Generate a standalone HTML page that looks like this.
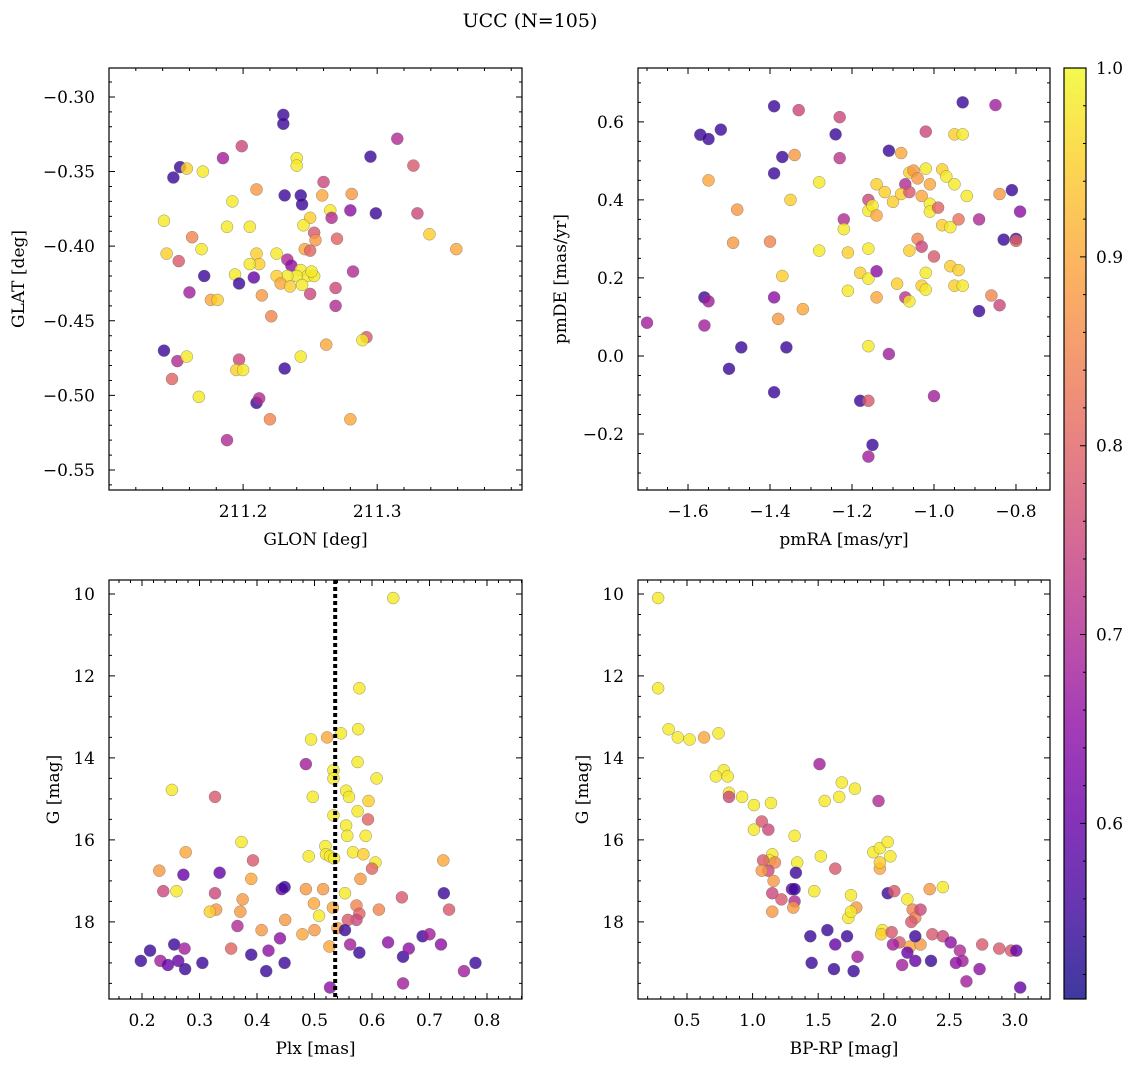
<!DOCTYPE html>
<html><head><meta charset="utf-8">
<style>
html,body{margin:0;padding:0;background:#fff;}
svg{display:block;font-family:"DejaVu Serif","Liberation Serif",serif;}
</style></head>
<body>
<svg id="fig" width="1136" height="1067" viewBox="0 0 1136 1067" xmlns="http://www.w3.org/2000/svg">
<defs>
<linearGradient id="cbg" x1="0" y1="1" x2="0" y2="0">
<stop offset="0" stop-color="#0d0887"/><stop offset="0.1" stop-color="#41049d"/><stop offset="0.2" stop-color="#6a00a8"/><stop offset="0.3" stop-color="#8f0da4"/><stop offset="0.4" stop-color="#b12a90"/><stop offset="0.5" stop-color="#cc4778"/><stop offset="0.6" stop-color="#e16462"/><stop offset="0.7" stop-color="#f2844b"/><stop offset="0.8" stop-color="#fca636"/><stop offset="0.9" stop-color="#fcce25"/><stop offset="1" stop-color="#f0f921"/>
</linearGradient>
</defs>
<text x="530" y="27" font-size="19" text-anchor="middle">UCC (N=105)</text>
</svg>
<script>
// ---- data (per panel) ----
const glon=[211.230,211.230,211.199,211.185,211.153,211.158,211.170,211.148,211.240,211.240,211.295,211.315,211.327,211.260,211.210,211.231,211.243,211.244,211.259,211.281,211.192,211.141,211.250,211.265,211.266,211.280,211.299,211.330,211.162,211.188,211.205,211.245,211.253,211.254,211.270,211.339,211.359,211.143,211.152,211.169,211.210,211.212,211.225,211.205,211.246,211.250,211.233,211.236,211.243,211.248,211.240,211.233,211.225,211.228,211.235,211.244,211.253,211.251,211.282,211.171,211.194,211.208,211.197,211.160,211.176,211.181,211.214,211.250,211.269,211.269,211.221,211.292,211.289,211.262,211.243,211.231,211.141,211.151,211.158,211.147,211.197,211.195,211.200,211.167,211.210,211.212,211.220,211.280,211.188];
const glat=[-0.312,-0.318,-0.333,-0.341,-0.347,-0.348,-0.350,-0.354,-0.341,-0.346,-0.340,-0.328,-0.346,-0.357,-0.362,-0.366,-0.366,-0.372,-0.366,-0.365,-0.370,-0.383,-0.381,-0.376,-0.381,-0.376,-0.378,-0.378,-0.394,-0.387,-0.387,-0.386,-0.391,-0.396,-0.395,-0.392,-0.402,-0.405,-0.410,-0.402,-0.405,-0.412,-0.405,-0.412,-0.402,-0.403,-0.409,-0.413,-0.416,-0.420,-0.420,-0.420,-0.420,-0.425,-0.427,-0.426,-0.420,-0.417,-0.417,-0.420,-0.419,-0.421,-0.425,-0.431,-0.436,-0.436,-0.433,-0.432,-0.428,-0.440,-0.447,-0.461,-0.463,-0.466,-0.474,-0.482,-0.470,-0.477,-0.474,-0.489,-0.476,-0.483,-0.483,-0.501,-0.505,-0.502,-0.516,-0.516,-0.530];
const prob1=[0.55,0.55,0.75,0.68,0.55,0.95,0.98,0.55,0.98,0.98,0.55,0.70,0.78,0.75,0.88,0.55,0.55,0.55,0.90,0.88,0.98,0.98,0.95,0.98,0.70,0.65,0.55,0.75,0.85,0.98,0.98,0.98,0.78,0.88,0.80,0.95,0.90,0.95,0.78,0.98,0.95,0.95,0.98,0.98,0.90,0.80,0.70,0.65,0.98,0.98,0.98,0.98,0.95,0.90,0.95,0.98,0.98,0.98,0.70,0.55,0.98,0.60,0.55,0.68,0.90,0.95,0.88,0.75,0.75,0.70,0.85,0.78,0.98,0.90,0.98,0.55,0.55,0.70,0.98,0.80,0.75,0.95,0.98,0.98,0.55,0.70,0.85,0.90,0.70];

const pmra=[-1.57,-1.55,-1.52,-1.39,-1.33,-1.23,-1.24,-1.34,-1.37,-1.23,-1.11,-1.08,-1.06,-1.05,-1.04,-1.02,-1.01,-0.98,-0.97,-0.95,-1.07,-0.93,-0.85,-1.02,-0.95,-0.93,-1.55,-1.39,-1.28,-1.48,-1.35,-1.22,-1.16,-1.16,-1.15,-1.14,-1.12,-1.10,-1.08,-1.06,-1.03,-1.01,-1.01,-0.99,-0.98,-0.96,-0.94,-0.92,-0.89,-0.84,-0.81,-0.79,-0.80,-0.80,-0.83,-1.22,-1.14,-1.04,-1.03,-1.00,-1.06,-1.21,-1.28,-1.16,-1.49,-1.40,-1.37,-1.18,-1.16,-1.14,-1.02,-1.21,-1.14,-1.07,-1.06,-1.03,-1.02,-1.09,-0.96,-0.94,-0.95,-0.93,-0.89,-0.86,-0.84,-1.56,-1.55,-1.56,-1.39,-1.38,-1.36,-1.32,-1.47,-1.70,-1.16,-1.11,-1.50,-1.39,-1.18,-1.16,-1.15,-1.16,-1.00];
const pmde=[0.567,0.556,0.580,0.640,0.630,0.612,0.568,0.515,0.510,0.507,0.526,0.520,0.470,0.475,0.455,0.480,0.440,0.478,0.460,0.440,0.440,0.650,0.643,0.575,0.568,0.568,0.450,0.468,0.445,0.375,0.400,0.350,0.400,0.372,0.385,0.440,0.420,0.395,0.415,0.420,0.410,0.390,0.370,0.380,0.335,0.330,0.350,0.410,0.350,0.415,0.425,0.370,0.300,0.295,0.298,0.325,0.360,0.300,0.280,0.255,0.270,0.265,0.270,0.275,0.290,0.293,0.205,0.213,0.198,0.217,0.213,0.167,0.150,0.150,0.140,0.180,0.170,0.185,0.230,0.220,0.180,0.180,0.115,0.155,0.130,0.150,0.140,0.078,0.150,0.095,0.022,0.120,0.022,0.085,0.025,0.005,-0.033,-0.093,-0.115,-0.115,-0.228,-0.258,-0.103];
const prob2=[0.55,0.55,0.55,0.55,0.75,0.75,0.55,0.88,0.55,0.72,0.55,0.90,0.95,0.88,0.88,0.98,0.90,0.95,0.98,0.98,0.70,0.55,0.68,0.75,0.95,0.98,0.90,0.55,0.98,0.88,0.95,0.70,0.75,0.98,0.98,0.95,0.95,0.95,0.95,0.78,0.90,0.98,0.98,0.80,0.95,0.98,0.82,0.98,0.70,0.88,0.55,0.65,0.55,0.80,0.55,0.98,0.90,0.85,0.75,0.78,0.95,0.95,0.98,0.98,0.88,0.85,0.95,0.95,0.98,0.65,0.98,0.98,0.90,0.72,0.98,0.95,0.98,0.95,0.95,0.95,0.95,0.98,0.55,0.85,0.75,0.55,0.68,0.68,0.65,0.88,0.55,0.90,0.55,0.68,0.98,0.68,0.55,0.55,0.55,0.78,0.55,0.68,0.68];

const plx=[0.637,0.578,0.576,0.546,0.522,0.494,0.575,0.533,0.533,0.608,0.485,0.252,0.327,0.497,0.555,0.560,0.594,0.575,0.533,0.593,0.555,0.557,0.589,0.373,0.519,0.276,0.490,0.520,0.527,0.567,0.585,0.606,0.600,0.534,0.393,0.230,0.335,0.272,0.724,0.652,0.580,0.390,0.237,0.260,0.327,0.375,0.485,0.515,0.443,0.448,0.499,0.553,0.532,0.573,0.578,0.573,0.558,0.612,0.725,0.734,0.329,0.318,0.371,0.449,0.508,0.540,0.500,0.479,0.440,0.408,0.366,0.355,0.420,0.390,0.256,0.214,0.198,0.232,0.245,0.263,0.275,0.274,0.305,0.416,0.448,0.526,0.553,0.562,0.578,0.527,0.628,0.654,0.664,0.688,0.700,0.720,0.760,0.780,0.654];
const gmag3=[10.1,12.3,13.3,13.4,13.5,13.55,14.1,14.3,14.5,14.5,14.15,14.78,14.95,14.95,14.8,14.95,15.05,15.3,15.4,15.5,15.65,15.9,15.9,16.05,16.15,16.3,16.4,16.35,16.4,16.3,16.35,16.55,16.7,16.45,16.5,16.75,16.8,16.85,16.5,17.4,16.95,16.95,17.25,17.25,17.3,17.45,17.2,17.2,17.2,17.15,17.55,17.3,17.65,17.6,17.8,17.95,17.95,17.7,17.3,17.7,17.7,17.75,17.75,17.95,17.85,18.15,18.2,18.3,18.4,18.2,18.1,18.65,18.7,18.8,18.55,18.7,18.95,18.95,19.05,18.95,19.15,18.65,19.0,19.2,19.0,18.6,18.2,18.55,18.75,19.6,18.5,18.85,18.65,18.35,18.3,18.55,19.2,19.0,19.5];
const prob3=[0.98,0.98,0.98,0.98,0.90,0.98,0.98,0.98,0.98,0.98,0.68,0.98,0.78,0.98,0.98,0.98,0.95,0.98,0.98,0.80,0.98,0.98,0.98,0.98,0.98,0.90,0.98,0.98,0.98,0.98,0.95,0.98,0.80,0.98,0.78,0.88,0.60,0.60,0.90,0.78,0.88,0.90,0.75,0.98,0.75,0.88,0.88,0.88,0.60,0.55,0.90,0.98,0.90,0.85,0.80,0.75,0.78,0.85,0.55,0.78,0.88,0.95,0.88,0.88,0.98,0.90,0.88,0.90,0.65,0.88,0.70,0.80,0.65,0.55,0.55,0.55,0.55,0.68,0.60,0.60,0.55,0.68,0.55,0.55,0.55,0.90,0.55,0.68,0.55,0.65,0.65,0.55,0.65,0.55,0.68,0.65,0.68,0.55,0.68];
const plxLine=[0.536];

const bprp=[0.28,0.28,0.36,0.43,0.52,0.63,0.74,0.78,0.72,0.81,0.82,0.92,1.01,1.14,1.51,1.68,1.78,1.55,1.66,1.96,0.82,1.07,1.12,1.01,1.32,1.15,1.13,1.08,1.17,1.12,1.34,1.52,1.63,1.92,1.97,2.03,2.05,1.97,1.97,1.16,1.07,1.30,1.32,1.47,1.15,1.22,1.31,1.15,1.75,1.79,1.73,1.75,2.03,2.08,2.18,2.35,2.45,2.22,2.24,2.28,2.21,1.99,1.98,2.06,2.12,2.20,2.28,2.37,2.45,2.51,2.58,2.60,2.75,2.88,2.97,3.01,3.04,2.73,2.63,2.55,2.36,2.24,2.18,2.14,2.24,2.07,1.80,1.77,1.62,1.63,1.57,1.44,1.45,1.72,1.33,1.32];
const gmag4=[10.1,12.3,13.3,13.5,13.55,13.5,13.4,14.3,14.45,14.45,14.85,14.95,15.15,15.1,14.15,14.6,14.75,15.05,14.95,15.05,14.95,15.55,15.75,15.75,15.9,16.35,16.5,16.5,16.55,16.75,16.55,16.4,16.7,16.3,16.2,16.05,16.4,16.7,16.55,17.0,16.75,17.2,17.5,17.25,17.3,17.45,17.65,17.75,17.35,17.65,17.9,17.75,17.3,17.25,17.45,17.2,17.15,17.7,17.9,17.7,18.0,18.2,18.3,18.25,18.5,18.6,18.55,18.3,18.35,18.5,18.7,18.95,18.55,18.65,18.7,18.7,19.6,19.15,19.45,19.0,18.95,18.95,18.75,19.05,18.35,18.55,18.85,19.2,19.15,18.55,18.2,18.35,19.0,18.35,16.8,17.2];
const prob4=[0.98,0.98,0.98,0.98,0.98,0.90,0.98,0.98,0.98,0.98,0.98,0.98,0.98,0.98,0.68,0.98,0.98,0.98,0.98,0.70,0.75,0.78,0.75,0.98,0.98,0.98,0.98,0.78,0.85,0.75,0.98,0.98,0.78,0.98,0.98,0.98,0.98,0.90,0.95,0.88,0.88,0.60,0.70,0.98,0.75,0.78,0.88,0.88,0.98,0.88,0.98,0.98,0.55,0.78,0.98,0.88,0.98,0.85,0.85,0.75,0.78,0.98,0.95,0.78,0.78,0.90,0.88,0.78,0.75,0.65,0.70,0.68,0.78,0.78,0.78,0.60,0.60,0.65,0.68,0.65,0.55,0.60,0.60,0.68,0.55,0.68,0.68,0.55,0.55,0.60,0.55,0.55,0.55,0.55,0.55,0.55];

const cbTicks=[0.6,0.7,0.8,0.9,1.0];
const cbRange=[0.507,1.0];

// ---- rendering ----
const NS='http://www.w3.org/2000/svg';
const svg=document.getElementById('fig');
const stops=['#0d0887','#41049d','#6a00a8','#8f0da4','#b12a90','#cc4778','#e16462','#f2844b','#fca636','#fcce25','#f0f921'];
function hex(c){return [parseInt(c.slice(1,3),16),parseInt(c.slice(3,5),16),parseInt(c.slice(5,7),16)];}
function plasma(v){
  let t=(v-cbRange[0])/(cbRange[1]-cbRange[0]);t=Math.max(0,Math.min(1,t));
  const f=t*10,i=Math.min(9,Math.floor(f)),r=f-i;
  const a=hex(stops[i]),b=hex(stops[i+1]);
  return 'rgb('+a.map((x,k)=>Math.round(x+(b[k]-x)*r)).join(',')+')';
}
function mk(tag,attrs,parent){const e=document.createElementNS(NS,tag);for(const k in attrs)e.setAttribute(k,attrs[k]);(parent||svg).appendChild(e);return e;}
function fmt(v,d){let s=v.toFixed(d);return s.replace('-','\u2212');}
const FS=17;

function panel(cfg){
  const g=mk('g',{});
  
  
  const {x0,y0,x1,y1}=cfg;
  const sx=v=>x0+(v-cfg.xlim[0])/(cfg.xlim[1]-cfg.xlim[0])*(x1-x0);
  const sy=cfg.yinv?(v=>y0+(v-cfg.ylim[0])/(cfg.ylim[1]-cfg.ylim[0])*(y1-y0)):(v=>y1-(v-cfg.ylim[0])/(cfg.ylim[1]-cfg.ylim[0])*(y1-y0));
  for(let i=0;i<cfg.xs.length;i++){
    const c=mk('circle',{cx:sx(cfg.xs[i]),cy:sy(cfg.ys[i]),r:6,fill:plasma(cfg.ps[i]),'fill-opacity':0.8,stroke:'#666','stroke-width':0.5,'stroke-opacity':0.7},g);
    
    
  }
  if(cfg.vline){
    const l=mk('line',{x1:sx(cfg.vline),x2:sx(cfg.vline),y1:y0,y2:y1,stroke:'#000','stroke-width':4,'stroke-dasharray':'4,3'},g);
    
    
  }
  const fr=mk('rect',{x:x0,y:y0,width:x1-x0,height:y1-y0,fill:'none',stroke:'#000','stroke-width':1.2},g);
  
  
  const tl=[];
  function ticks(min,max,step){const a=[];const s=Math.ceil(min/step-1e-9);for(let k=s;k*step<=max+1e-9;k++)a.push(+(k*step).toFixed(6));return a;}
  ticks(cfg.xlim[0],cfg.xlim[1],cfg.xminor).forEach(v=>{const X=sx(v);tl.push(`M${X},${y1}v-3M${X},${y0}v3`);});
  ticks(Math.min(...cfg.ylim),Math.max(...cfg.ylim),cfg.yminor).forEach(v=>{const Y=sy(v);tl.push(`M${x0},${Y}h3M${x1},${Y}h-3`);});
  cfg.xt.forEach(v=>{const X=sx(v);tl.push(`M${X},${y1}v-6M${X},${y0}v6`);
    const t=mk('text',{x:X,y:y1+27,'font-size':FS,'text-anchor':'middle'},g);t.textContent=fmt(v,cfg.xd);
    
    });
  cfg.yt.forEach(v=>{const Y=sy(v);tl.push(`M${x0},${Y}h6M${x1},${Y}h-6`);
    const t=mk('text',{x:x0-14,y:Y+6,'font-size':FS,'text-anchor':'end'},g);t.textContent=fmt(v,cfg.yd);
    
    });
  const tp=mk('path',{d:tl.join(''),stroke:'#000','stroke-width':1,fill:'none'},g);
  
  
  const xl=mk('text',{x:(x0+x1)/2,y:y1+55,'font-size':FS,'text-anchor':'middle'},g);xl.textContent=cfg.xlabel;
  
  
  const yl=mk('text',{x:0,y:0,'font-size':FS,'text-anchor':'middle',transform:`translate(${cfg.ylx},${(y0+y1)/2}) rotate(-90)`},g);yl.textContent=cfg.ylabel;
  
  
}

panel({name:'glon-glat-panel',x0:109,y0:68,x1:522,y1:490,xlim:[211.1,211.408],ylim:[-0.5634,-0.2806],xs:glon,ys:glat,ps:prob1,
  xt:[211.2,211.3],xd:1,xminor:0.02,yt:[-0.30,-0.35,-0.40,-0.45,-0.50,-0.55],yd:2,yminor:0.01,xlabel:'GLON [deg]',ylabel:'GLAT [deg]',ylx:24});
panel({name:'proper-motion-panel',x0:638,y0:68,x1:1050,y1:490,xlim:[-1.722,-0.717],ylim:[-0.3436,0.738],xs:pmra,ys:pmde,ps:prob2,
  xt:[-1.6,-1.4,-1.2,-1.0,-0.8],xd:1,xminor:0.05,yt:[-0.2,0,0.2,0.4,0.6],yd:1,yminor:0.05,xlabel:'pmRA [mas/yr]',ylabel:'pmDE [mas/yr]',ylx:566});
panel({name:'plx-g-panel',x0:109,y0:580,x1:522,y1:999,xlim:[0.1426,0.8609],ylim:[9.66,19.88],yinv:true,xs:plx,ys:gmag3,ps:prob3,vline:plxLine[0],
  xt:[0.2,0.3,0.4,0.5,0.6,0.7,0.8],xd:1,xminor:0.02,yt:[10,12,14,16,18],yd:0,yminor:0.5,xlabel:'Plx [mas]',ylabel:'G [mag]',ylx:59});
panel({name:'cmd-panel',x0:638,y0:580,x1:1050,y1:999,xlim:[0.1265,3.267],ylim:[9.66,19.88],yinv:true,xs:bprp,ys:gmag4,ps:prob4,
  xt:[0.5,1.0,1.5,2.0,2.5,3.0],xd:1,xminor:0.1,yt:[10,12,14,16,18],yd:0,yminor:0.5,xlabel:'BP-RP [mag]',ylabel:'G [mag]',ylx:588});

(function(){
  const cx0=1064,cx1=1086,cy0=68,cy1=999;
  const g=mk('g',{});
  
  
  mk('rect',{x:cx0,y:cy0,width:cx1-cx0,height:cy1-cy0,fill:'url(#cbg)','fill-opacity':0.8},g);
  mk('rect',{x:cx0,y:cy0,width:cx1-cx0,height:cy1-cy0,fill:'none',stroke:'#000','stroke-width':1.2},g);
  const sy=v=>cy1-(v-cbRange[0])/(cbRange[1]-cbRange[0])*(cy1-cy0);
  let d='';
  for(let v=0.52;v<=1.0001;v+=0.02){d+=`M${cx1},${sy(v)}h-3`;}
  cbTicks.forEach(v=>{const Y=sy(v);d+=`M${cx1},${Y}h-6`;
    const t=mk('text',{x:cx1+10,y:Y+6,'font-size':FS},g);t.textContent=v.toFixed(1);
    
    });
  mk('path',{d:d,stroke:'#000','stroke-width':1},g);
})();
</script>
</body></html>
